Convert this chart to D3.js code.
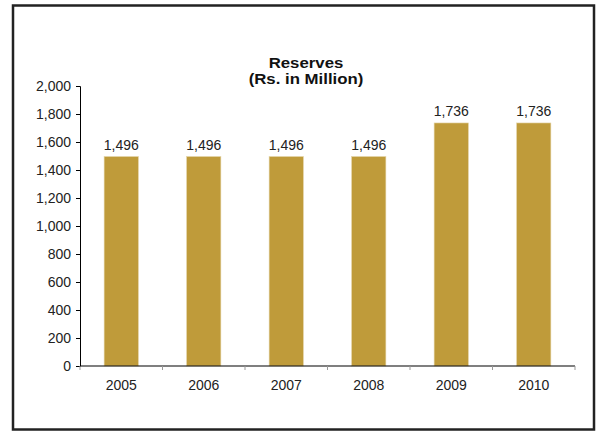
<!DOCTYPE html>
<html><head><meta charset="utf-8">
<script src="https://cdn.jsdelivr.net/npm/d3@7"></script>
<style>body{margin:0;background:#fff;}svg{display:block;font-family:Arial,"Liberation Sans",sans-serif;}</style>
</head><body>
<svg id="c" width="597" height="432"></svg>
<script>
const categories = ["2005","2006","2007","2008","2009","2010"];
const values = [1496,1496,1496,1496,1736,1736];
const yTicks = [0,200,400,600,800,1000,1200,1400,1600,1800,2000];
const titleLines = ["Reserves","(Rs. in Million)"];

const FONT = "Arial, 'Liberation Sans', sans-serif";
const svg = d3.select("#c");
svg.append("rect").attr("x",13).attr("y",5.5).attr("width",581).attr("height",424)
  .attr("fill","#fff").attr("stroke","#222").attr("stroke-width",2.5);

const x0 = 80, x1 = 575, yTop = 86, yBot = 366;
const x = d3.scaleBand().domain(categories).range([x0,x1]).paddingInner(0.585).paddingOuter(0.2925);
const xb = d3.scaleBand().domain(categories).range([x0,x1]);
const y = d3.scaleLinear().domain([0,2000]).range([yBot,yTop]);

svg.selectAll("rect.bar").data(values).enter().append("rect")
  .attr("class","bar")
  .attr("x",(d,i)=>x(categories[i]))
  .attr("width",x.bandwidth())
  .attr("y",d=>y(d))
  .attr("height",d=>y(0)-y(d))
  .attr("fill","#BF9B3A").attr("stroke","#E3D3A6").attr("stroke-width",0.6);

const fmt = d3.format(",");
const yAxis = svg.append("g").attr("transform",`translate(${x0},0)`)
  .call(d3.axisLeft(y).tickValues(yTicks).tickFormat(fmt).tickSize(4).tickPadding(5));
yAxis.attr("font-size",14).attr("font-family",FONT);
yAxis.select(".domain").attr("stroke","#000").attr("stroke-width",1);
yAxis.selectAll(".tick line").attr("stroke","#000");
yAxis.selectAll("text").attr("fill","#222");

const xAxis = svg.append("g").attr("transform",`translate(0,${yBot})`)
  .call(d3.axisBottom(xb).tickSize(0).tickPadding(14));
xAxis.attr("font-size",14).attr("font-family",FONT);
xAxis.select(".domain").attr("stroke","#000").attr("stroke-width",1.2).attr("d",`M${x0},0H${x1}`);
xAxis.selectAll("text").attr("fill","#222");
const bounds = categories.map(c=>xb(c)).concat([x1]);
svg.append("g").selectAll("line").data(bounds).enter().append("line")
  .attr("x1",d=>d).attr("x2",d=>d).attr("y1",yBot).attr("y2",yBot+4)
  .attr("stroke","#999").attr("stroke-width",1);

svg.append("g").selectAll("text").data(values).enter().append("text")
  .attr("x",(d,i)=>x(categories[i])+x.bandwidth()/2)
  .attr("y",d=>y(d)-7)
  .attr("text-anchor","middle").attr("font-size",14).attr("font-family",FONT).attr("fill","#222")
  .text(d=>fmt(d));

svg.append("g").selectAll("text").data(titleLines).enter().append("text")
  .attr("transform",(d,i)=>`translate(306,${68+i*16}) scale(1.2,1)`)
  .attr("text-anchor","middle").attr("font-size",14).attr("font-weight","bold").attr("font-family",FONT).attr("fill","#111")
  .text(d=>d);
</script>
</body></html>
